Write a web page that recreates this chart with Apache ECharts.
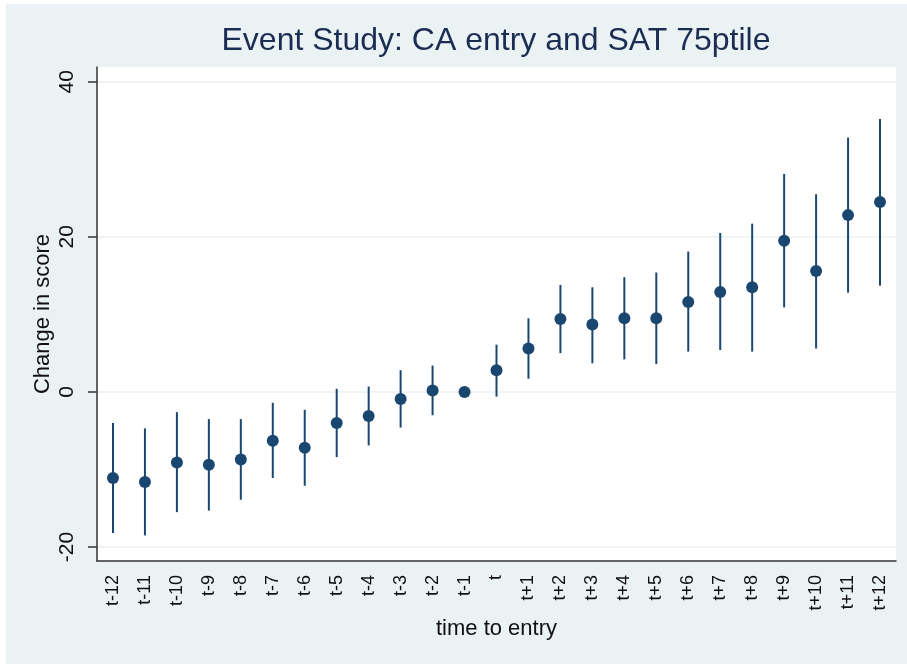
<!DOCTYPE html>
<html>
<head>
<meta charset="utf-8">
<script src="https://cdn.jsdelivr.net/npm/echarts@6/dist/echarts.min.js"></script>
<style>
html, body { margin: 0; padding: 0; background: #fff; }
#main { position: absolute; left: 6px; top: 4px; width: 901px; height: 660px; }
</style>
</head>
<body>
<div id="main"></div>
<script>
var navy = '#1a476f';
var font = '"Liberation Sans", Arial, sans-serif';

// time to entry
var periods = ['t-12', 't-11', 't-10', 't-9', 't-8', 't-7', 't-6', 't-5', 't-4', 't-3', 't-2', 't-1', 't',
    't+1', 't+2', 't+3', 't+4', 't+5', 't+6', 't+7', 't+8', 't+9', 't+10', 't+11', 't+12'];
// point estimates
var coef = [-11.1, -11.6, -9.1, -9.4, -8.7, -6.3, -7.2, -4.0, -3.1, -0.9, 0.2, 0, 2.8,
    5.6, 9.4, 8.7, 9.5, 9.5, 11.6, 12.9, 13.5, 19.5, 15.6, 22.8, 24.5];
// confidence interval bounds (t-1 is the omitted period)
var lower = [-18.2, -18.5, -15.5, -15.3, -13.9, -11.1, -12.1, -8.4, -6.9, -4.6, -3.0, null, -0.6,
    1.7, 5.0, 3.7, 4.2, 3.6, 5.2, 5.4, 5.2, 10.9, 5.6, 12.8, 13.7];
var upper = [-4.0, -4.7, -2.6, -3.5, -3.5, -1.4, -2.3, 0.4, 0.7, 2.8, 3.4, null, 6.1,
    9.5, 13.8, 13.5, 14.8, 15.4, 18.1, 20.5, 21.7, 28.1, 25.5, 32.8, 35.2];
var yTicks = [-20, 0, 20, 40];

var ciData = [];
for (var i = 0; i < periods.length; i++) {
    if (lower[i] == null) continue;
    ciData.push([i, lower[i], upper[i]]);
}

var chart = echarts.init(document.getElementById('main'));
chart.setOption({
    backgroundColor: '#eaf2f3',
    animation: false,
    textStyle: { fontFamily: font },
    title: {
        text: 'Event Study: CA entry and SAT 75ptile',
        left: 485,
        textAlign: 'center',
        top: 16,
        textStyle: { fontFamily: font, fontSize: 32, fontWeight: 'normal', color: '#1c2d54' }
    },
    grid: {
        left: 91,
        right: 11,
        top: 63,
        bottom: 103,
        show: true,
        backgroundColor: '#fff',
        borderWidth: 0,
        outerBoundsMode: 'none'
    },
    xAxis: {
        type: 'category',
        data: periods,
        boundaryGap: true,
        name: 'time to entry',
        nameLocation: 'middle',
        nameGap: 57,
        nameMoveOverlap: false,
        nameTextStyle: { fontFamily: font, fontSize: 22, color: '#111' },
        axisLine: { onZero: false, lineStyle: { color: '#333', width: 1.5 } },
        axisTick: { alignWithLabel: true, length: 10, lineStyle: { color: '#333', width: 1.5 } },
        axisLabel: { interval: 0, rotate: 90, margin: 14, fontSize: 18, color: '#111', fontFamily: font },
        splitLine: { show: false }
    },
    yAxis: {
        type: 'value',
        min: -21.8,
        max: 41.9,
        name: 'Change in score',
        nameLocation: 'middle',
        nameRotate: 90,
        nameGap: 43,
        nameMoveOverlap: false,
        nameTextStyle: { fontFamily: font, fontSize: 22, color: '#111' },
        axisLine: { show: true, lineStyle: { color: '#333', width: 1.5 } },
        axisTick: { show: true, length: 9, customValues: yTicks, lineStyle: { color: '#333', width: 1.5 } },
        axisLabel: { rotate: 90, margin: 19, fontSize: 21, color: '#111', fontFamily: font, customValues: yTicks },
        splitLine: { show: true, lineStyle: { color: '#eaf2f3', width: 1.5 } }
    },
    series: [
        {
            type: 'custom',
            data: ciData,
            encode: { x: 0, y: [1, 2] },
            renderItem: function (params, api) {
                var p1 = api.coord([api.value(0), api.value(1)]);
                var p2 = api.coord([api.value(0), api.value(2)]);
                return {
                    type: 'line',
                    shape: { x1: p1[0], y1: p1[1], x2: p2[0], y2: p2[1] },
                    style: { stroke: navy, lineWidth: 2 }
                };
            },
            z: 2
        },
        {
            type: 'scatter',
            data: coef,
            symbol: 'circle',
            symbolSize: 12,
            itemStyle: { color: navy, opacity: 1 },
            z: 3
        }
    ]
});
</script>
</body>
</html>
